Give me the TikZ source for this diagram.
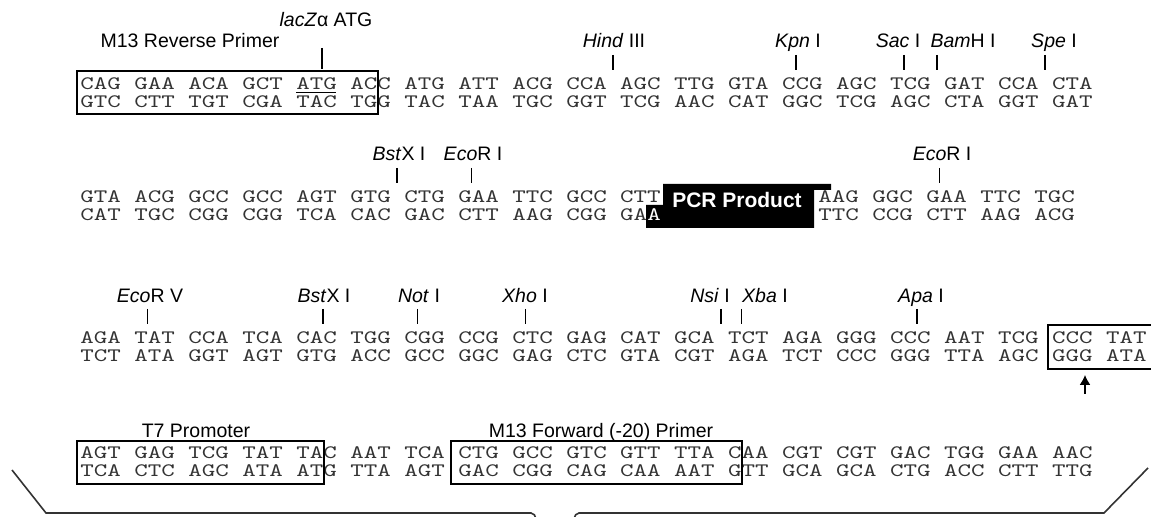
\documentclass[tikz,border=0pt]{standalone}
\usepackage{fontspec}
\usetikzlibrary{arrows.meta}
\newfontfamily\labfont{Liberation Sans}
\newfontfamily\seqfont[FakeStretch=1.353]{lmmono10-regular.otf}
\newcommand{\sq}{\seqfont\fontsize{9.5pt}{10pt}\selectfont}
\newcommand{\lb}{\labfont\fontsize{9.75pt}{10pt}\selectfont}

\begin{document}
\begin{tikzpicture}[x=0.5pt,y=-0.5pt,
   strand/.style={anchor=base west,inner sep=0pt,font=\sq,text=black!80},
   tag/.style={anchor=base,inner sep=0pt,font=\lb},
   cut/.style={line width=0.6pt},
   frame/.style={line width=0.7pt},
   brace/.style={line width=0.8pt,black!80}]
   \useasboundingbox (0,0) rectangle (1151,517);
   % row 1
   \node[strand] (top1) at (80,90)  {CAG GAA ACA GCT ATG ACC ATG ATT ACG CCA AGC TTG GTA CCG AGC TCG GAT CCA CTA};
   \node[strand] (bot1) at (80,108) {GTC CTT TGT CGA TAC TGG TAC TAA TGC GGT TCG AAC CAT GGC TCG AGC CTA GGT GAT};
   \draw[frame] (77,71) rectangle (378,114);
   \draw[cut] (296,92.5) -- (336,92.5);
   \node[tag] (m13r) at (190,48) {M13 Reverse Primer};
   \node[tag] (lacz) at (326,27) {\textit{lacZ}α ATG};
   \draw[cut] (322,48) -- (322,69);
   \node[tag] (hind) at (614,48)  {\textit{Hind} III};
   \node[tag] (kpn)  at (798,48)  {\textit{Kpn} I};
   \node[tag] (sac)  at (898,48)  {\textit{Sac} I};
   \node[tag] (bam)  at (963,48)  {\textit{Bam}H I};
   \node[tag] (spe)  at (1054,48) {\textit{Spe} I};
   \foreach \x in {613,796,904,937,1045}
      \draw[cut] (\x,55) -- (\x,70);
   % row 2
   \node[strand] (top2a) at (80,203)  {GTA ACG GCC GCC AGT GTG CTG GAA TTC GCC CTT};
   \node[strand] (top2b) at (818,203) {AAG GGC GAA TTC TGC};
   \node[strand] (bot2a) at (80,221)  {CAT TGC CGG CGG TCA CAC GAC CTT AAG CGG GA};
   \node[strand] (bot2b) at (818,221) {TTC CCG CTT AAG ACG};
   \fill (663,184) -- (831,184) -- (831,190) -- (814,190) -- (814,228)
      -- (646,228) -- (646,205) -- (663,205) -- cycle;
   \node[strand,text=white] (lastA) at (647,221) {A};
   \node[anchor=base,inner sep=0pt,text=white,
      font=\labfont\fontsize{10.5pt}{11pt}\selectfont\bfseries] (pcr) at (737,208) {PCR Product};
   \node[tag] (bstx1) at (399,161) {\textit{Bst}X I};
   \node[tag] (eco1)  at (473,161) {\textit{Eco}R I};
   \node[tag] (eco2)  at (942,161) {\textit{Eco}R I};
   \foreach \x in {397,471.5,939.5}
      \draw[cut] (\x,168) -- (\x,183);
   % row 3
   \node[strand] (top3) at (80,344) {AGA TAT CCA TCA CAC TGG CGG CCG CTC GAG CAT GCA TCT AGA GGG CCC AAT TCG CCC TAT};
   \node[strand] (bot3) at (80,362) {TCT ATA GGT AGT GTG ACC GCC GGC GAG CTC GTA CGT AGA TCT CCC GGG TTA AGC GGG ATA};
   \draw[frame] (1155,325) -- (1048,325) -- (1048,369) -- (1155,369);
   \draw[line width=0.7pt,-{Latex[length=5pt,width=5.5pt]}] (1085,394) -- (1085,375);
   \node[tag] (ecorv) at (150,303) {\textit{Eco}R V};
   \node[tag] (bstx2) at (324,303) {\textit{Bst}X I};
   \node[tag] (noti)  at (419,303) {\textit{Not} I};
   \node[tag] (xho)   at (525,303) {\textit{Xho} I};
   \node[tag] (nsi)   at (710,303) {\textit{Nsi} I};
   \node[tag] (xba)   at (765,303) {\textit{Xba} I};
   \node[tag] (apa)   at (921,303) {\textit{Apa} I};
   \foreach \x in {147.5,323,417.5,525.5,721,741.5,917}
      \draw[cut] (\x,309) -- (\x,324);
   % row 4
   \node[strand] (top4) at (80,459) {AGT GAG TCG TAT TAC AAT TCA CTG GCC GTC GTT TTA CAA CGT CGT GAC TGG GAA AAC};
   \node[strand] (bot4) at (80,477) {TCA CTC AGC ATA ATG TTA AGT GAC CGG CAG CAA AAT GTT GCA GCA CTG ACC CTT TTG};
   \draw[frame] (77,441) rectangle (324,484);
   \draw[frame] (451,441) rectangle (742,484);
   \node[tag] (t7)   at (196,438) {T7 Promoter};
   \node[tag] (m13f) at (601,438) {M13 Forward (-20) Primer};
   % brace
   \draw[brace] (12,470) -- (46,513) -- (531,513) to[out=0,in=100] (536,519);
   \draw[brace] (574,519) to[out=80,in=180] (579,513) -- (1104,513) -- (1148,468);
\end{tikzpicture}
\end{document}
